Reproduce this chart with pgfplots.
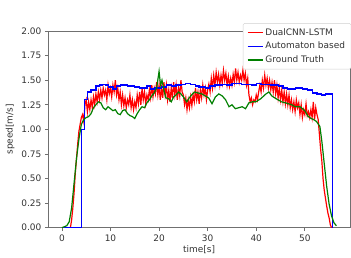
\documentclass[border=0pt]{standalone}
\usepackage{pgfplots}
\pgfplotsset{compat=1.18}
\usepackage{fontspec}
\setmainfont{DejaVu Sans}
\definecolor{spine}{HTML}{707070}
\definecolor{txt}{HTML}{333333}
\definecolor{mplgreen}{HTML}{008000}
\begin{document}
\begin{tikzpicture}
\begin{axis}[
  scale only axis, width=301.7bp, height=196.7bp,
  xmin=-2.8, xmax=59.3, ymin=0, ymax=2,
  xtick={0,10,20,30,40,50},
  ytick={0,0.25,0.5,0.75,1,1.25,1.5,1.75,2},
  yticklabel style={/pgf/number format/.cd,fixed,fixed zerofill,precision=2},
  /pgf/number format/assume math mode=true,
  tick align=outside, xtick pos=bottom, ytick pos=left,
  major tick length=3.5bp,
  axis line style={spine, line width=0.8pt},
  tick style={spine, line width=0.7pt},
  ticklabel style={font=\fontsize{9}{10}\selectfont, text=txt},
  label style={font=\fontsize{9}{10}\selectfont, text=txt},
  xlabel={time[s]}, ylabel={speed[m/s]},
  xlabel style={yshift=3pt}, ylabel style={yshift=0pt},
  legend style={at={(1.004,1.04)}, anchor=north east, draw=black!18, rounded corners=1.5pt,
    font=\fontsize{9}{10}\selectfont, text=txt, row sep=1.5pt, inner xsep=4pt, inner ysep=3pt},
  legend cell align=left,
  legend image code/.code={\draw[line width=1.3pt] (0bp,0bp) -- (15bp,0bp);},
]
\addplot[red, line width=1.2pt] coordinates {
(1.75,0) (2,0.08) (2.25,0.2) (2.5,0.35) (2.75,0.55) (3,0.7) (3.25,0.85) (3.5,0.98) (3.75,1.05) (4,1.12)
(4.25,1.15) (4.5,1.08) (4.75,1.25) (5,1.3) (5.25,1.18) (5.5,1.28) (5.75,1.2) (6,1.3) (6.25,1.22) (6.5,1.33)
(6.75,1.25) (7,1.36) (7.25,1.28) (7.5,1.38) (7.75,1.3) (8,1.4) (8.25,1.32) (8.5,1.42) (8.75,1.35) (9,1.4)
(9.25,1.3) (9.5,1.45) (9.75,1.36) (10,1.42) (10.25,1.33) (10.5,1.45) (10.75,1.38) (11,1.5) (11.25,1.35) (11.5,1.42)
(11.75,1.3) (12,1.38) (12.25,1.25) (12.5,1.35) (12.75,1.24) (13,1.32) (13.25,1.22) (13.5,1.3) (13.75,1.25) (14,1.35)
(14.25,1.22) (14.5,1.3) (14.75,1.2) (15,1.28) (15.25,1.22) (15.5,1.35) (15.75,1.26) (16,1.38) (16.25,1.25) (16.5,1.42)
(16.75,1.3) (17,1.38) (17.25,1.26) (17.5,1.35) (17.75,1.3) (18,1.4) (18.25,1.32) (18.5,1.45) (18.75,1.33) (19,1.42)
(19.25,1.36) (19.5,1.48) (19.75,1.35) (20,1.45) (20.25,1.3) (20.5,1.42) (20.75,1.32) (21,1.48) (21.25,1.35) (21.5,1.45)
(21.75,1.3) (22,1.4) (22.25,1.28) (22.5,1.42) (22.75,1.32) (23,1.48) (23.25,1.35) (23.5,1.45) (23.75,1.3) (24,1.42)
(24.25,1.34) (24.5,1.5) (24.75,1.38) (25,1.35) (25.25,1.25) (25.5,1.32) (25.75,1.2) (26,1.3) (26.25,1.22) (26.5,1.33)
(26.75,1.24) (27,1.35) (27.25,1.28) (27.5,1.42) (27.75,1.3) (28,1.38) (28.25,1.26) (28.5,1.4) (28.75,1.32) (29,1.45)
(29.25,1.35) (29.5,1.42) (29.75,1.3) (30,1.4) (30.25,1.46) (30.5,1.38) (30.75,1.52) (31,1.42) (31.25,1.55) (31.5,1.45)
(31.75,1.58) (32,1.48) (32.25,1.56) (32.5,1.45) (32.75,1.55) (33,1.47) (33.25,1.6) (33.5,1.5) (33.75,1.57) (34,1.45)
(34.25,1.54) (34.5,1.44) (34.75,1.52) (35,1.45) (35.25,1.56) (35.5,1.48) (35.75,1.62) (36,1.5) (36.25,1.58) (36.5,1.48)
(36.75,1.55) (37,1.5) (37.25,1.6) (37.5,1.5) (37.75,1.57) (38,1.45) (38.25,1.52) (38.5,1.35) (38.75,1.28) (39,1.32)
(39.25,1.25) (39.5,1.3) (39.75,1.28) (40,1.35) (40.25,1.3) (40.5,1.38) (40.75,1.45) (41,1.38) (41.25,1.5) (41.5,1.42)
(41.75,1.55) (42,1.45) (42.25,1.52) (42.5,1.42) (42.75,1.5) (43,1.4) (43.25,1.48) (43.5,1.38) (43.75,1.5) (44,1.36)
(44.25,1.45) (44.5,1.32) (44.75,1.42) (45,1.3) (45.25,1.4) (45.5,1.28) (45.75,1.38) (46,1.26) (46.25,1.36) (46.5,1.25)
(46.75,1.35) (47,1.22) (47.25,1.3) (47.5,1.2) (47.75,1.28) (48,1.18) (48.25,1.3) (48.5,1.22) (48.75,1.27) (49,1.15)
(49.25,1.25) (49.5,1.12) (49.75,1.2) (50,1.15) (50.25,1.26) (50.5,1.14) (50.75,1.18) (51,1.12) (51.25,1.2) (51.5,1.12)
(51.75,1.28) (52,1.1) (52.25,1.22) (52.5,1.15) (52.75,1.1) (53,0.95) (53.25,0.8) (53.5,0.68) (53.75,0.5) (54,0.38)
(54.25,0.3) (54.5,0.22) (54.75,0.15) (55,0.1) (55.25,0.03) (55.5,0)
};
\addlegendentry{DualCNN-LSTM}
\addplot[blue, line width=1.2pt, const plot] coordinates {
(0,0) (4.1,1.0) (4.7,1.3) (5.2,1.38) (6.0,1.40) (7.0,1.44) (7.8,1.45) (8.3,1.46) (9.0,1.45) (9.6,1.43)
(10.5,1.41) (11.2,1.44) (12.0,1.45) (13.5,1.44) (15.0,1.43) (16.0,1.42) (17.5,1.44) (18.3,1.41) (19.0,1.42)
(20.5,1.43) (21.5,1.45) (22.5,1.44) (23.5,1.45) (24.5,1.46) (25.5,1.47) (26.5,1.46) (27.5,1.44) (28.2,1.43)
(29.5,1.42) (30.5,1.44) (31.5,1.45) (33,1.46) (34,1.45) (35,1.47) (37,1.46) (39,1.45) (40,1.47) (41,1.46)
(43,1.45) (44.5,1.44) (45.5,1.42) (46.5,1.41) (48,1.42) (49.5,1.41) (50.5,1.40) (51.5,1.37) (52.5,1.36)
(53.5,1.35) (54.2,1.36) (55.7,0)
};
\addlegendentry{Automaton based}
\addplot[mplgreen, line width=1.2pt] coordinates {
(0,0) (0.5,0.01) (1,0.02) (1.5,0.06) (2,0.2) (2.5,0.45) (3,0.7) (3.5,0.9) (4,1.05) (4.5,1.1) (5,1.12)
(5.5,1.13) (6,1.16) (6.5,1.22) (7,1.25) (7.5,1.28) (8,1.27) (8.5,1.22) (9,1.2) (9.5,1.23) (10,1.21)
(10.5,1.19) (11,1.2) (11.5,1.16) (12,1.15) (12.5,1.19) (13,1.2) (13.5,1.16) (14,1.14) (14.5,1.13) (15,1.11)
(15.5,1.16) (16,1.2) (16.5,1.23) (17,1.22) (17.5,1.27) (18,1.3) (18.5,1.34) (19,1.37) (19.5,1.42) (20,1.59)
(20.3,1.45) (20.6,1.5) (21,1.4) (21.4,1.32) (22,1.31) (22.5,1.28) (23,1.33) (23.5,1.35) (24,1.38) (24.5,1.36)
(25,1.33) (25.7,1.28) (26.2,1.32) (26.7,1.35) (27.3,1.38) (28,1.37) (28.8,1.36) (29.5,1.34) (30.2,1.32) (30.9,1.26)
(31.6,1.33) (32.3,1.36) (33,1.34) (33.7,1.3) (34.4,1.23) (35,1.25) (35.7,1.21) (36.4,1.22) (37.1,1.23) (37.8,1.21)
(38.5,1.27) (39.2,1.28) (39.9,1.28) (40.9,1.31) (42,1.36) (42.6,1.38) (43.2,1.34) (43.8,1.32) (44.5,1.3) (45.2,1.28)
(46,1.27) (46.6,1.26) (47.3,1.25) (48,1.23) (49,1.23) (50,1.19) (50.7,1.13) (51.3,1.11) (51.8,1.1) (52.4,1.08)
(53.1,1.03) (53.5,0.88) (54,0.65) (54.5,0.42) (55,0.24) (55.5,0.12) (56,0.05) (56.5,0.02)
};
\addlegendentry{Ground Truth}
\end{axis}
\pgfresetboundingbox
\path (current axis.south west) ++(-48.3bp,-30.3bp) rectangle ++(351bp,258bp);
\end{tikzpicture}
\end{document}
